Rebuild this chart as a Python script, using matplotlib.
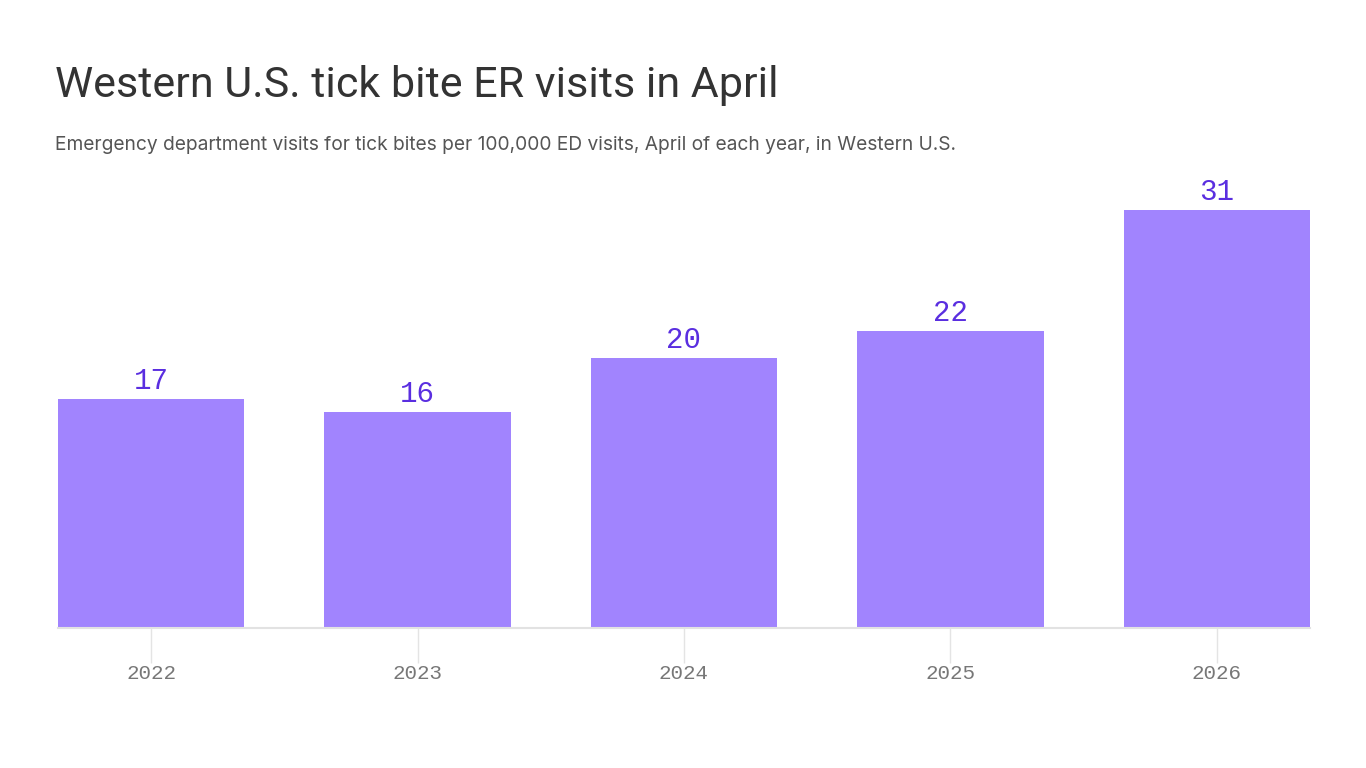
import matplotlib
matplotlib.use("Agg")
import matplotlib.pyplot as plt

# Data
years = ["2022", "2023", "2024", "2025", "2026"]
visits = [17, 16, 20, 22, 31]

title = "Western U.S. tick bite ER visits in April"
subtitle = ("Emergency department visits for tick bites per 100,000 ED visits, "
            "April of each year, in Western U.S.")

bar_color = "#a184fe"
label_color = "#5a2ee0"
mono = ["Liberation Mono", "DejaVu Sans Mono"]

fig = plt.figure(figsize=(13.66, 7.68), dpi=100)
ax = fig.add_axes([58 / 1366, 140 / 768, 1252 / 1366, 418 / 768])

x = range(len(years))
bars = ax.bar(x, visits, width=0.698, color=bar_color, zorder=2)

for xi, v in zip(x, visits):
    ax.annotate(str(v), (xi, v), xytext=(0, 3), textcoords="offset points",
                ha="center", va="bottom", fontsize=21, color=label_color,
                family=mono)

ax.set_xlim(-0.349, len(years) - 1 + 0.349)
ax.set_ylim(0, max(visits))
ax.set_xticks(list(x))
ax.set_xticklabels(years, family=mono, fontsize=15, color="#777777")
ax.tick_params(axis="x", length=25, width=1.0, color="#e4e4e4", pad=1)
ax.set_yticks([])

for side in ["top", "right", "left"]:
    ax.spines[side].set_visible(False)
ax.spines["bottom"].set_color("#e2e2e2")
ax.spines["bottom"].set_linewidth(1.5)

fig.text(55 / 1366, 1 - 97 / 768, title, fontsize=31, color="#333333",
         family=["Roboto", "DejaVu Sans"], va="baseline")
fig.text(55 / 1366, 1 - 150 / 768, subtitle, fontsize=13.8, color="#555555",
         family=["Inter", "DejaVu Sans"], va="baseline")

fig.savefig("out.png", dpi=100)
